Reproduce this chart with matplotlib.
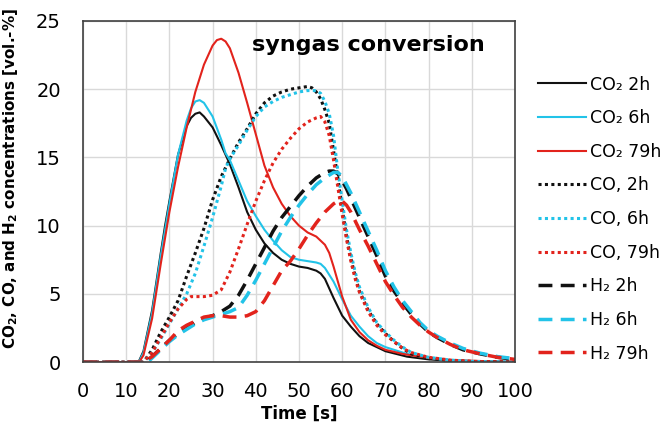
import matplotlib
matplotlib.use("Agg")
import matplotlib.pyplot as plt

# ---- data ----
co2_2h_x = [0, 12, 13, 14, 16, 18, 19, 20, 22, 24, 25, 26, 27, 28, 30, 32, 34, 36, 38, 40, 42, 44, 46, 48, 50, 52, 54, 55, 56, 58, 60, 62, 64, 66, 68, 70, 75, 80, 85, 100]
co2_2h_y = [0, 0, 0.1, 0.8, 3.8, 8.0, 10.0, 11.8, 15.2, 17.3, 17.9, 18.2, 18.3, 18.0, 17.2, 15.9, 14.5, 12.8, 11.0, 9.7, 8.7, 8.0, 7.5, 7.2, 7.0, 6.9, 6.7, 6.5, 6.1, 4.7, 3.4, 2.6, 1.9, 1.4, 1.1, 0.8, 0.4, 0.2, 0.1, 0]

co2_6h_x = [0, 12, 13, 14, 16, 18, 20, 22, 24, 25, 26, 27, 28, 30, 32, 33, 34, 36, 38, 40, 42, 44, 46, 48, 50, 52, 54, 55, 56, 58, 60, 62, 64, 66, 68, 70, 75, 80, 85, 100]
co2_6h_y = [0, 0, 0.05, 0.7, 3.6, 7.8, 11.6, 15.2, 17.7, 18.6, 19.1, 19.2, 19.0, 18.0, 16.3, 15.3, 14.8, 13.3, 11.8, 10.7, 9.7, 8.9, 8.2, 7.7, 7.5, 7.4, 7.3, 7.2, 6.9, 5.9, 4.6, 3.4, 2.6, 1.9, 1.4, 1.1, 0.6, 0.3, 0.1, 0]

co2_79h_x = [0, 13, 14, 16, 18, 20, 22, 24, 26, 28, 30, 31, 32, 33, 34, 36, 38, 40, 42, 44, 46, 48, 50, 52, 54, 56, 57, 58, 60, 62, 64, 66, 68, 70, 74, 80, 85, 100]
co2_79h_y = [0, 0, 0.5, 3.2, 7.2, 11.0, 14.3, 17.2, 19.8, 21.8, 23.2, 23.6, 23.7, 23.5, 23.0, 21.2, 19.0, 16.7, 14.4, 12.8, 11.6, 10.7, 10.0, 9.5, 9.2, 8.6, 8.0, 7.0, 4.8, 3.1, 2.2, 1.6, 1.2, 0.9, 0.6, 0.3, 0.15, 0]

co_2h_x = [0, 14, 16, 18, 20, 22, 24, 26, 28, 30, 32, 34, 36, 38, 40, 42, 44, 46, 48, 50, 52, 53, 54, 55, 56, 57, 58, 59, 60, 61, 62, 63, 64, 66, 68, 70, 72, 74, 76, 80, 85, 90, 100]
co_2h_y = [0, 0, 0.9, 2.2, 3.3, 4.5, 6.3, 8.0, 9.8, 11.9, 13.6, 14.9, 16.1, 17.1, 18.2, 19.0, 19.5, 19.8, 20.0, 20.1, 20.2, 20.1, 19.8, 19.3, 18.5, 17.5, 15.5, 13.5, 11.2, 9.2, 7.6, 6.3, 5.2, 3.8, 2.8, 2.1, 1.5, 1.0, 0.6, 0.3, 0.1, 0.05, 0]

co_6h_x = [0, 14, 16, 18, 20, 22, 24, 26, 28, 30, 32, 33, 34, 36, 38, 40, 42, 44, 46, 48, 50, 52, 54, 55, 56, 57, 58, 59, 60, 61, 62, 63, 64, 66, 68, 70, 72, 74, 76, 80, 85, 90, 100]
co_6h_y = [0, 0, 0.7, 1.7, 2.8, 3.9, 5.0, 6.5, 8.5, 10.6, 12.9, 14.2, 14.9, 15.9, 17.0, 18.0, 18.7, 19.1, 19.4, 19.6, 19.8, 19.9, 19.9, 19.7, 19.1, 18.2, 16.6, 14.0, 11.8, 9.7, 8.0, 6.6, 5.5, 4.0, 2.9, 2.2, 1.6, 1.1, 0.7, 0.35, 0.15, 0.05, 0]

co_79h_x = [0, 14, 16, 18, 20, 22, 24, 25, 26, 28, 30, 32, 34, 36, 38, 40, 42, 44, 46, 48, 50, 52, 54, 55, 56, 57, 58, 59, 60, 61, 62, 63, 64, 66, 68, 70, 72, 74, 76, 80, 85, 90, 100]
co_79h_y = [0, 0, 0.7, 1.8, 2.9, 3.9, 4.6, 4.8, 4.8, 4.8, 4.9, 5.3, 6.6, 8.3, 10.1, 11.8, 13.3, 14.6, 15.6, 16.4, 17.1, 17.6, 17.9, 18.0, 17.6, 16.6, 14.8, 12.8, 10.8, 9.0, 7.4, 6.1, 5.1, 3.7, 2.7, 2.0, 1.5, 1.0, 0.7, 0.35, 0.15, 0.05, 0]

h2_2h_x = [0, 14, 15, 16, 18, 20, 22, 24, 26, 28, 30, 32, 34, 36, 38, 40, 42, 44, 46, 48, 50, 52, 54, 56, 57, 58, 59, 60, 61, 62, 63, 64, 65, 66, 68, 70, 72, 74, 76, 78, 80, 82, 85, 88, 92, 96, 100]
h2_2h_y = [0, 0, 0.1, 0.4, 1.0, 1.6, 2.1, 2.5, 2.9, 3.2, 3.4, 3.7, 4.1, 4.9, 6.0, 7.2, 8.4, 9.6, 10.6, 11.4, 12.2, 12.9, 13.5, 13.9, 14.0, 14.0, 13.8, 13.3, 12.7, 12.0, 11.3, 10.6, 9.9, 9.2, 7.8, 6.3, 5.2, 4.3, 3.5, 2.8, 2.2, 1.8, 1.3, 0.9, 0.6, 0.35, 0.2]

h2_6h_x = [0, 15, 16, 18, 20, 22, 24, 26, 28, 30, 32, 34, 36, 38, 40, 42, 44, 46, 48, 50, 52, 54, 56, 57, 58, 59, 60, 61, 62, 63, 64, 65, 66, 68, 70, 72, 74, 76, 78, 80, 82, 85, 88, 92, 96, 100]
h2_6h_y = [0, 0, 0.3, 0.9, 1.5, 2.0, 2.4, 2.8, 3.1, 3.3, 3.5, 3.7, 4.0, 4.9, 6.0, 7.2, 8.4, 9.6, 10.6, 11.5, 12.3, 13.0, 13.5, 13.7, 13.9, 13.9, 13.6, 13.0, 12.4, 11.7, 11.0, 10.3, 9.6, 8.2, 6.7, 5.5, 4.5, 3.7, 2.9, 2.3, 1.9, 1.4, 1.0, 0.65, 0.4, 0.25]

h2_79h_x = [0, 14, 16, 18, 20, 22, 24, 26, 28, 30, 32, 34, 36, 38, 40, 42, 44, 46, 48, 50, 52, 54, 56, 58, 59, 60, 61, 62, 64, 66, 68, 70, 72, 74, 76, 78, 80, 82, 85, 88, 92, 96, 100]
h2_79h_y = [0, 0, 0.4, 1.0, 1.6, 2.3, 2.7, 3.0, 3.3, 3.4, 3.4, 3.3, 3.3, 3.4, 3.7, 4.5, 5.6, 6.7, 7.4, 8.3, 9.3, 10.2, 11.0, 11.6, 11.8, 11.8, 11.5, 11.0, 9.7, 8.5, 7.2, 5.9, 4.9, 4.0, 3.3, 2.7, 2.2, 1.8, 1.3, 0.9, 0.6, 0.35, 0.2]

x_ticks = [0, 10, 20, 30, 40, 50, 60, 70, 80, 90, 100]
y_ticks = [0, 5, 10, 15, 20, 25]

BLACK = "#111111"
CYAN = "#22c3e8"
RED = "#e2231c"

series = [
    (co2_2h_x, co2_2h_y, BLACK, "solid", "CO\u2082 2h"),
    (co2_6h_x, co2_6h_y, CYAN, "solid", "CO\u2082 6h"),
    (co2_79h_x, co2_79h_y, RED, "solid", "CO\u2082 79h"),
    (co_2h_x, co_2h_y, BLACK, "dot", "CO, 2h"),
    (co_6h_x, co_6h_y, CYAN, "dot", "CO, 6h"),
    (co_79h_x, co_79h_y, RED, "dot", "CO, 79h"),
    (h2_2h_x, h2_2h_y, BLACK, "dash", "H\u2082 2h"),
    (h2_6h_x, h2_6h_y, CYAN, "dash", "H\u2082 6h"),
    (h2_79h_x, h2_79h_y, RED, "dash", "H\u2082 79h"),
]

fig = plt.figure(figsize=(6.64, 4.24), dpi=100)
ax = fig.add_axes([0.125, 0.146, 0.6506, 0.8045])

for xs, ys, col, style, lab in series:
    if style == "solid":
        ax.plot(xs, ys, color=col, lw=1.5, label=lab)
    elif style == "dot":
        ax.plot(xs, ys, color=col, lw=2.2, linestyle=(0, (1, 1.1)), label=lab)
    else:
        ax.plot(xs, ys, color=col, lw=2.5, linestyle=(0, (4, 2.4)), label=lab)

ax.set_xlim(0, 100)
ax.set_ylim(0, 25)
ax.set_xticks(x_ticks)
ax.set_yticks(y_ticks)
ax.tick_params(length=0, labelsize=14)
ax.tick_params(axis="x", pad=14)
ax.tick_params(axis="y", pad=16)
ax.grid(True, color="#d9d9d9", lw=1)
ax.set_axisbelow(True)
for s in ax.spines.values():
    s.set_color("#404040")
    s.set_linewidth(1.2)

ax.set_xlabel("Time [s]", fontsize=12, fontweight="bold", labelpad=3)
ax.set_ylabel(r"CO$_\mathbf{2}$, CO, and H$_\mathbf{2}$ concentrations [vol.-%]",
              fontsize=10.9, fontweight="bold")
ax.yaxis.set_label_coords(-0.146, 0.537)

ax.text(0.66, 0.93, "syngas conversion", transform=ax.transAxes,
        ha="center", va="center", fontsize=16, fontweight="bold")

ax.legend(loc="upper left", bbox_to_anchor=(1.054, 0.84), frameon=False,
          fontsize=12.5, handlelength=2.75, handletextpad=0.25, labelspacing=0.9,
          borderpad=0, borderaxespad=0)

fig.savefig("out.png", dpi=100)
